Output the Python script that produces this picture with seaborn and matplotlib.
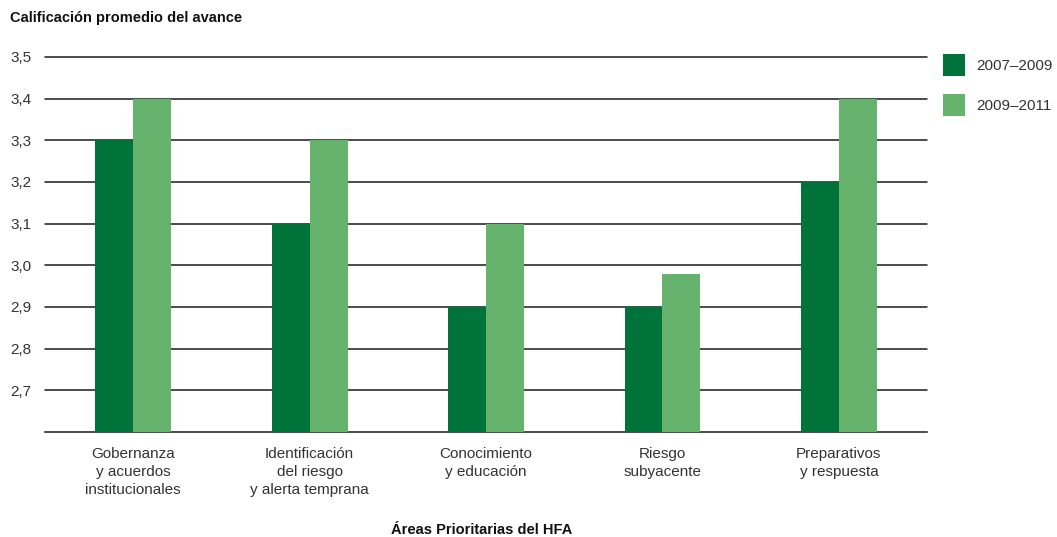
import matplotlib
matplotlib.use("Agg")
import matplotlib.pyplot as plt
import seaborn as sns
import pandas as pd
from matplotlib.patches import Patch

categories = ["Gobernanza\ny acuerdos\ninstitucionales",
              "Identificación\ndel riesgo\ny alerta temprana",
              "Conocimiento\ny educación",
              "Riesgo\nsubyacente",
              "Preparativos\ny respuesta"]
series_names = ["2007–2009", "2009–2011"]
values_2007_2009 = [3.3, 3.1, 2.9, 2.9, 3.2]
values_2009_2011 = [3.4, 3.3, 3.1, 2.98, 3.4]
yticks = [2.7, 2.8, 2.9, 3.0, 3.1, 3.2, 3.3, 3.4, 3.5]
ytick_labels = ["2,7", "2,8", "2,9", "3,0", "3,1", "3,2", "3,3", "3,4", "3,5"]
colors = ["#00733A", "#66B36E"]
text_color = "#333333"

df = pd.DataFrame({
    "cat": categories * 2,
    "serie": [series_names[0]] * 5 + [series_names[1]] * 5,
    "val": values_2007_2009 + values_2009_2011,
})

sns.set_theme(style="white")
plt.rcParams['font.family'] = ['Liberation Sans', 'DejaVu Sans']

fig = plt.figure(figsize=(10.57, 5.37), dpi=100)
ax = fig.add_axes([0.0426, 0.1955, 0.8345, 0.6985])

sns.barplot(data=df, x="cat", y="val", hue="serie", palette=colors,
            width=0.43, gap=0, saturation=1, ax=ax, legend=False, zorder=3,
            linewidth=0)

ax.set_ylim(2.6, 3.5)
ax.set_xlim(-0.5, 4.5)
ax.set_yticks(yticks)
ax.set_yticklabels(ytick_labels, fontsize=11, color=text_color)
ax.tick_params(axis="x", labelsize=11, colors=text_color, length=0, pad=11)
ax.tick_params(axis="y", length=0, pad=10)
for t in ax.get_xticklabels():
    t.set_linespacing(1.35)
ax.grid(axis="y", color="#1a1a1a", linewidth=1.1, zorder=1)
for gl in ax.get_ygridlines():
    gl.set_clip_on(False)
ax.grid(axis="x", visible=False)
for s in ["left", "right", "top"]:
    ax.spines[s].set_visible(False)
ax.spines["bottom"].set_color("#1a1a1a")
ax.spines["bottom"].set_linewidth(1.1)
ax.set_xlabel("")
ax.set_ylabel("")

fig.text(10 / 1057, 1 - 18 / 537, "Calificación promedio del avance",
         fontsize=10.5, fontweight="bold", va="center", ha="left", color="#111111")
fig.text(482 / 1057, 1 - 530 / 537, "Áreas Prioritarias del HFA",
         fontsize=10.5, fontweight="bold", va="center", ha="center", color="#111111")

handles = [Patch(facecolor=c, edgecolor="none") for c in colors]
leg = fig.legend(handles, series_names, loc="upper left",
                 bbox_to_anchor=(943 / 1057, 1 - 54 / 537),
                 frameon=False, fontsize=11, handlelength=1.45,
                 handleheight=1.85, handletextpad=0.75, labelspacing=1.15,
                 borderaxespad=0, borderpad=0)
for t in leg.get_texts():
    t.set_color(text_color)

fig.savefig("out.png", dpi=100)
